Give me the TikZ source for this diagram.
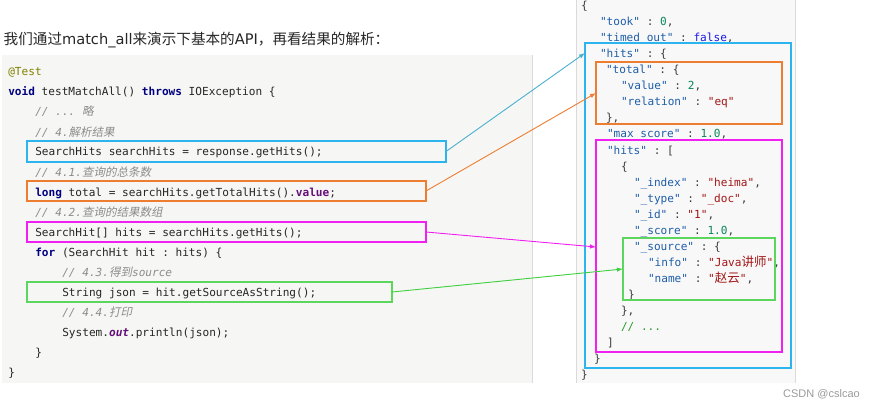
\documentclass[tikz,border=0pt]{standalone}
\usepackage{fontspec}
\setmainfont{Liberation Sans}
\setmonofont{DejaVu Sans Mono}
\newfontfamily\cjk{Noto Sans CJK SC}
\newfontfamily\cjki[FakeSlant=0.2]{Noto Sans CJK SC}
\newfontfamily\dvs{DejaVu Sans}
\usetikzlibrary{arrows.meta}
\definecolor{codebg}{HTML}{F6F7F4}
\definecolor{jbg}{HTML}{F8F8F8}
\definecolor{panelline}{HTML}{DADADA}
\definecolor{codetxt}{HTML}{262626}
\definecolor{kw}{HTML}{000080}
\definecolor{anno}{HTML}{808000}
\definecolor{cmt}{HTML}{8C8C8C}
\definecolor{fld}{HTML}{660E7A}
\definecolor{jkey}{HTML}{1F5DA8}
\definecolor{jstr}{HTML}{A31515}
\definecolor{jnum}{HTML}{098658}
\definecolor{jbool}{HTML}{1A1AE6}
\definecolor{jcmt}{HTML}{2A9A2A}
\definecolor{jpunct}{HTML}{3A3A3A}
\definecolor{bblue}{HTML}{2CB4EE}
\definecolor{lblue}{HTML}{4AAFD0}
\definecolor{borange}{HTML}{ED7D31}
\definecolor{bmag}{HTML}{F21FF2}
\definecolor{bgreen}{HTML}{5CD65C}
\definecolor{lgreen}{HTML}{3FCF3F}
\definecolor{headtxt}{HTML}{262626}
\definecolor{wmark}{HTML}{9A9A9A}
\newcommand\kwd[1]{\textbf{\color{kw}#1}}
\newcommand\jk[1]{\textcolor{jkey}{"#1"}}
\newcommand\js[1]{\textcolor{jstr}{"#1"}}
\newcommand\jn[1]{\textcolor{jnum}{#1}}
\newcommand\ccjk[1]{{\cjki\fontsize{11.5}{13}\selectfont #1}}
\newcommand\jcjk[1]{{\cjk\fontsize{12.5}{13}\selectfont #1}}
\tikzset{
  codeln/.style={anchor=base west, inner sep=0pt, outer sep=0pt, text=codetxt,
    font=\ttfamily\fontsize{11.1}{13}\selectfont},
  cmtln/.style={codeln, text=cmt, font=\ttfamily\itshape\fontsize{11.1}{13}\selectfont},
  jsonln/.style={codeln, text=jpunct},
  cbox/.style={draw, line width=1.2pt, inner sep=0pt, outer sep=0pt, fill=none},
  conn/.style={line width=0.9pt, -{Latex[length=6pt,width=4.5pt]}},
}
\begin{document}
\begin{tikzpicture}[x=1pt,y=-1pt]
\useasboundingbox (0,0) rectangle (875,409);
% panels
\fill[codebg] (2,55) rectangle (533,383);
\draw[panelline, line width=0.8pt] (532.6,55) -- (532.6,383);
\fill[jbg] (576,0) rectangle (795,383);
\draw[panelline, line width=0.8pt] (576,0) -- (576,383);
\draw[panelline, line width=0.8pt] (795,0) -- (795,383);
% heading
\node[anchor=base west, inner sep=0pt, text=headtxt, font=\fontsize{14.6}{16}\selectfont] (head) at (3.5,44.5)
  {{\cjk 我们通过}{\dvs match\_all}{\cjk 来演示下基本的}{\dvs API}{\cjk ，再看结果的解析：}};
% code lines
\node[codeln] (c1) at (8.3,76) {\textcolor{anno}{@Test}};
\node[codeln] (c2) at (8.3,96) {\kwd{void} testMatchAll() \kwd{throws} IOException \{};
\node[cmtln] (c3) at (35.3,116) {// ... \ccjk{略}};
\node[cmtln] (c4) at (35.3,136) {// 4.\ccjk{解析结果}};
\node[codeln] (c5) at (35.3,156) {SearchHits searchHits = response.getHits();};
\node[cmtln] (c6) at (35.3,176) {// 4.1.\ccjk{查询的总条数}};
\node[codeln] (c7) at (35.3,196) {\kwd{long} total = searchHits.getTotalHits().\textbf{\color{fld}value};};
\node[cmtln] (c8) at (35.3,216) {// 4.2.\ccjk{查询的结果数组}};
\node[codeln] (c9) at (35.3,236) {SearchHit[] hits = searchHits.getHits();};
\node[codeln] (c10) at (35.3,256) {\kwd{for} (SearchHit hit : hits) \{};
\node[cmtln] (c11) at (62.3,276) {// 4.3.\ccjk{得到}source};
\node[codeln] (c12) at (62.3,296) {String json = hit.getSourceAsString();};
\node[cmtln] (c13) at (62.3,316) {// 4.4.\ccjk{打印}};
\node[codeln] (c14) at (62.3,336) {System.\textbf{\itshape\color{fld}out}.println(json);};
\node[codeln] (c15) at (35.3,356) {\}};
\node[codeln] (c16) at (8.3,376) {\}};
% json lines
\node[jsonln] (j0) at (581,10) {\{};
\node[jsonln] (j1) at (600,26) {\jk{took} : \jn{0},};
\node[jsonln] (j2) at (600,42) {\jk{timed\_out} : \textcolor{jbool}{false},};
\node[jsonln] (j3) at (600,58) {\jk{hits} : \{};
\node[jsonln] (j4) at (606,74) {\jk{total} : \{};
\node[jsonln] (j5) at (621,90) {\jk{value} : \jn{2},};
\node[jsonln] (j6) at (621,106) {\jk{relation} : \js{eq}};
\node[jsonln] (j7) at (606,122) {\},};
\node[jsonln] (j8) at (607,138) {\jk{max\_score} : \jn{1.0},};
\node[jsonln] (j9) at (607,154) {\jk{hits} : [};
\node[jsonln] (j10) at (621,170) {\{};
\node[jsonln] (j11) at (634,186) {\jk{\_index} : \js{heima},};
\node[jsonln] (j12) at (634,202) {\jk{\_type} : \js{\_doc},};
\node[jsonln] (j13) at (634,218) {\jk{\_id} : \js{1},};
\node[jsonln] (j14) at (634,234) {\jk{\_score} : \jn{1.0},};
\node[jsonln] (j15) at (634,250) {\jk{\_source} : \{};
\node[jsonln] (j16) at (648,266) {\jk{info} : \textcolor{jstr}{"Java\jcjk{讲师}"},};
\node[jsonln] (j17) at (648,282) {\jk{name} : \textcolor{jstr}{"\jcjk{赵云}"},};
\node[jsonln] (j18) at (628,298) {\}};
\node[jsonln] (j19) at (621,314) {\},};
\node[jsonln, text=jcmt] (j20) at (621,330) {// ...};
\node[jsonln] (j21) at (607,346) {]};
\node[jsonln] (j22) at (594,362) {\}};
\node[jsonln] (j23) at (581,378) {\}};
% highlight boxes (code)
\node[cbox, draw=bblue, minimum width=419pt, minimum height=21pt] (bSH) at (236.5,151.5) {};
\node[cbox, draw=borange, minimum width=399pt, minimum height=20pt] (bTot) at (226.5,191) {};
\node[cbox, draw=bmag, minimum width=399pt, minimum height=20pt] (bHits) at (226.5,232) {};
\node[cbox, draw=bgreen, minimum width=365pt, minimum height=20pt] (bSrc) at (209.5,292) {};
% highlight boxes (json)
\node[cbox, draw=bblue, minimum width=206pt, minimum height=325pt] (jHits) at (688,205.5) {};
\node[cbox, draw=borange, minimum width=186pt, minimum height=62pt] (jTot) at (689,93) {};
\node[cbox, draw=bmag, minimum width=186pt, minimum height=212pt] (jArr) at (689,246) {};
\node[cbox, draw=bgreen, minimum width=152pt, minimum height=62pt] (jSrc) at (699,269) {};
% connectors
\draw[conn, lblue] (bSH.east) -- ([yshift=-10pt]jHits.north west);
\draw[conn, borange] (bTot.east) -- (jTot.west);
\draw[conn, bmag] (bHits.east) -- ([yshift=-1pt]jArr.west);
\draw[conn, lgreen] (bSrc.east) -- (jSrc.west);
% watermark
\node[anchor=base west, inner sep=0pt, text=wmark, font=\fontsize{11}{13}\selectfont] (wm) at (783,397.5) {CSDN @cslcao};
\end{tikzpicture}
\end{document}
